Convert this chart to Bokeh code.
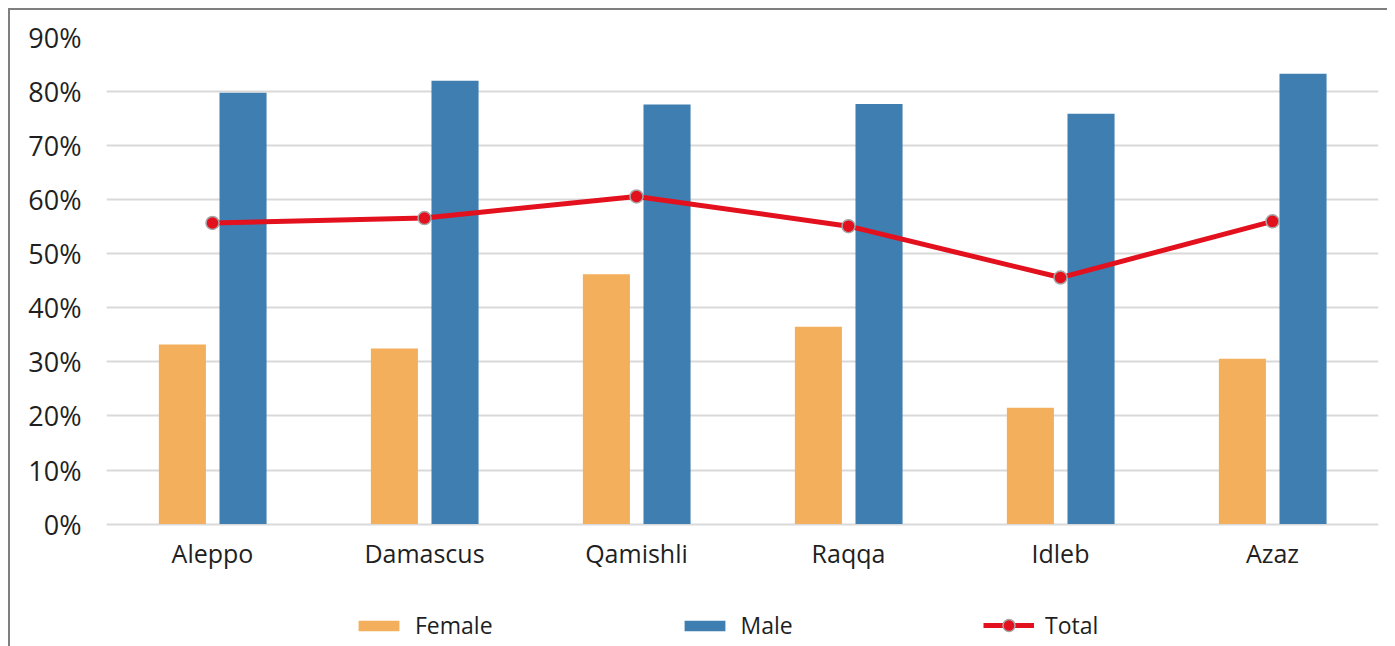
from bokeh.plotting import figure
from bokeh.models import (ColumnDataSource, FactorRange, Range1d, NumeralTickFormatter,
                          FixedTicker, Legend, LegendItem)
from bokeh.transform import dodge
from bokeh.embed import file_html
from bokeh.resources import INLINE

cities = ["Aleppo", "Damascus", "Qamishli", "Raqqa", "Idleb", "Azaz"]
female = [0.332, 0.325, 0.462, 0.365, 0.215, 0.306]
male = [0.798, 0.820, 0.776, 0.777, 0.759, 0.833]
total = [0.557, 0.566, 0.606, 0.551, 0.456, 0.560]
y_ticks = [0.0, 0.1, 0.2, 0.3, 0.4, 0.5, 0.6, 0.7, 0.8, 0.9]

src = ColumnDataSource(dict(city=cities, female=female, male=male, total=total))

FONT = "Open Sans"
TEXT = "#1f1f1f"

# frame runs to the bottom of the canvas so the legend can sit inside it
p = figure(x_range=FactorRange(*cities, range_padding=0), y_range=Range1d(-0.2301, 0.9),
           width=1379, height=638, output_backend="svg", toolbar_location=None,
           min_border_left=96, min_border_right=11, min_border_top=27, min_border_bottom=0)
p.styles = {"border-left": "2px solid #7f7f7f", "border-top": "2px solid #7f7f7f",
            "box-sizing": "border-box", "margin-left": "8px", "margin-top": "8px"}
p.outline_line_color = None
p.background_fill_color = "white"
p.border_fill_color = "white"

p.xgrid.grid_line_color = None
p.ygrid.grid_line_color = "#d9d9d9"
p.ygrid.grid_line_width = 2

p.yaxis.ticker = FixedTicker(ticks=y_ticks)
p.yaxis.formatter = NumeralTickFormatter(format="0%")
p.yaxis.axis_line_color = None
p.yaxis.major_tick_line_color = None
p.yaxis.minor_tick_line_color = None
p.yaxis.major_label_standoff = 19
p.yaxis.major_label_text_font = FONT
p.yaxis.major_label_text_font_size = "27px"
p.yaxis.major_label_text_color = TEXT

p.xaxis.fixed_location = 0
p.xaxis.axis_line_color = None
p.xaxis.major_tick_line_color = None
p.xaxis.major_label_standoff = 6
p.xaxis.major_label_text_font = FONT
p.xaxis.major_label_text_font_size = "25px"
p.xaxis.major_label_text_color = TEXT

rf = p.vbar(x=dodge("city", -0.142, range=p.x_range), top="female", width=0.222,
            source=src, fill_color="#F3AF5B", line_color=None)
rm = p.vbar(x=dodge("city", 0.144, range=p.x_range), top="male", width=0.222,
            source=src, fill_color="#3F7EB0", line_color=None)
rl = p.line(x="city", y="total", source=src, line_color="#E3101E", line_width=5)
rc = p.scatter(x="city", y="total", source=src, size=13, fill_color="#E3101E",
               line_color="#A6A6A6", line_width=1.5)


def style_legend(lg, gh):
    lg.glyph_width = 51
    lg.glyph_height = gh
    lg.label_height = 30
    lg.label_standoff = 11
    lg.padding = 0
    lg.margin = 0
    lg.border_line_color = None
    lg.background_fill_alpha = 0
    lg.label_text_font = FONT
    lg.label_text_font_size = "23px"
    lg.label_text_color = TEXT


legend = Legend(items=[LegendItem(label="Female", renderers=[rf]),
                       LegendItem(label="Male", renderers=[rm])],
                orientation="horizontal", location=(247, 7))
style_legend(legend, 13)
legend.spacing = 186
p.add_layout(legend, "center")

legend2 = Legend(items=[LegendItem(label="Total", renderers=[rl, rc])],
                 orientation="horizontal", location=(877, 7))
style_legend(legend2, 30)
p.add_layout(legend2, "center")

open("out.html", "w").write(file_html(p, INLINE))
